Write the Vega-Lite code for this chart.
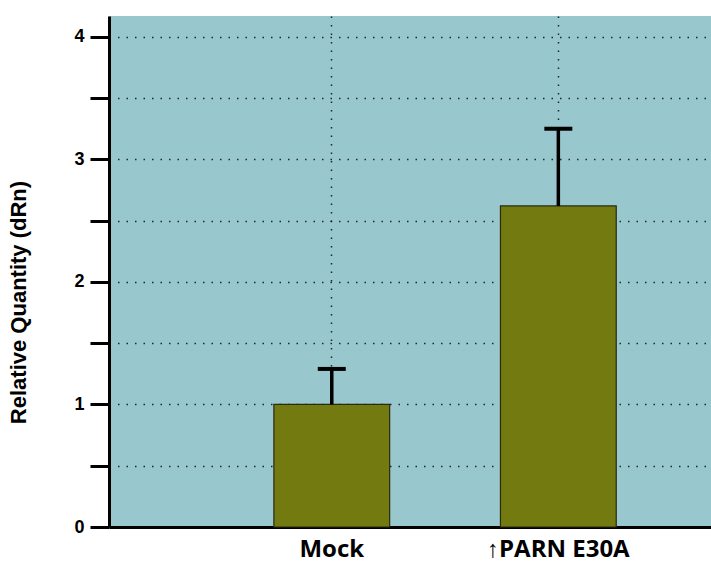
{
  "$schema": "https://vega.github.io/schema/vega-lite/v6.json",
  "width": 602,
  "height": 511,
  "autosize": {"type": "none"},
  "padding": {"left": 109, "top": 16, "right": 0, "bottom": 40},
  "background": "white",
  "config": {
    "view": {"fill": "#99c7ce", "stroke": null},
    "font": "Liberation Sans"
  },
  "data": {
    "values": [
      {"group": "Mock", "value": 1.0, "upper": 1.29},
      {"group": "↑PARN E30A", "value": 2.62, "upper": 3.25}
    ]
  },
  "encoding": {
    "x": {
      "field": "group",
      "type": "nominal",
      "sort": null,
      "scale": {"type": "band", "paddingInner": 0.489, "paddingOuter": 0.573, "align": 0.635},
      "axis": {
        "title": null,
        "labelAngle": 0,
        "labelFont": "Open Sans",
        "labelFontSize": 24,
        "labelFontWeight": "bold",
        "labelColor": "black",
        "labelPadding": 10,
        "ticks": false,
        "domainColor": "black",
        "domainWidth": 3,
        "grid": true,
        "bandPosition": 0.5,
        "gridColor": "black",
        "gridDash": [1.5, 7],
        "gridWidth": 1.5,
        "gridOpacity": 0.8
      }
    }
  },
  "layer": [
    {
      "mark": {"type": "bar", "color": "#737a10", "stroke": "#2a2a10", "strokeWidth": 1.2},
      "encoding": {
        "y": {
          "field": "value",
          "type": "quantitative",
          "scale": {"domain": [0, 4.17], "nice": false, "zero": true},
          "axis": {
            "title": "Relative Quantity (dRn)",
            "titleFont": "Liberation Sans",
            "titleFontSize": 22,
            "titleFontWeight": "bold",
            "titleColor": "black",
            "titleX": -91,
            "titleY": 286,
            "titleAngle": -90,
            "titleAlign": "center",
            "titleBaseline": "middle",
            "values": [0, 0.5, 1, 1.5, 2, 2.5, 3, 3.5, 4],
            "labelExpr": "datum.value % 1 == 0 ? format(datum.value, 'd') : ''",
            "labelFont": "Liberation Sans",
            "labelFontSize": 18,
            "labelFontWeight": "bold",
            "labelColor": "black",
            "labelPadding": 6,
            "tickSize": 19,
            "tickWidth": 3,
            "tickColor": "black",
            "domainColor": "black",
            "domainWidth": 3,
            "gridColor": "black",
            "gridDash": [1.5, 7],
            "gridWidth": 1.5,
            "gridOpacity": 0.8
          }
        }
      }
    },
    {
      "mark": {"type": "rule", "color": "black", "strokeWidth": 3.5, "opacity": 1},
      "encoding": {
        "y": {"field": "value", "type": "quantitative"},
        "y2": {"field": "upper"}
      }
    },
    {
      "mark": {"type": "tick", "color": "black", "thickness": 4, "size": 28, "orient": "horizontal", "opacity": 1},
      "encoding": {
        "y": {"field": "upper", "type": "quantitative"}
      }
    }
  ]
}
